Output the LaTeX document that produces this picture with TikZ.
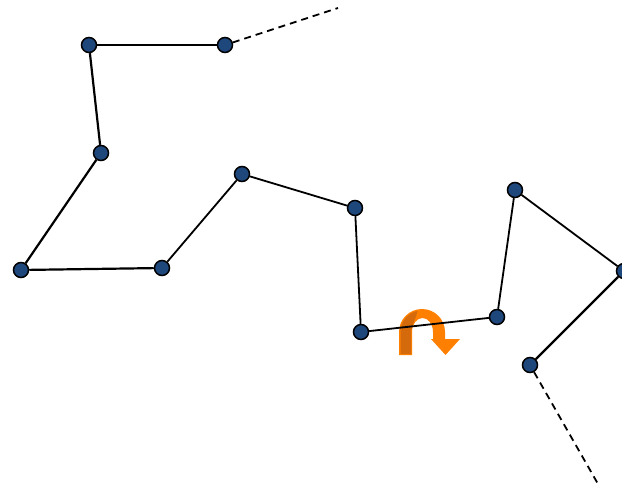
\documentclass[tikz,border=0pt]{standalone}
\begin{document}
\begin{tikzpicture}[x=1pt,y=-1pt,
  bead/.style={circle,draw=black,line width=1.5pt,fill=beadblue,minimum size=15pt,inner sep=0pt},
  thickedge/.style={line width=2.2pt},
  thinedge/.style={line width=1.8pt},
  dashedge/.style={line width=1.8pt,dash pattern=on 7pt off 5pt}]
\definecolor{beadblue}{RGB}{30,72,124}
\definecolor{arrorange}{RGB}{255,128,0}
\definecolor{arrdark}{RGB}{212,106,12}
\useasboundingbox (0,0) rectangle (622,487);
% rotation arrow
\fill[arrorange] (399,355) -- (399,332) arc[start angle=180,end angle=360,x radius=23,y radius=23]
  -- (445,339) -- (460,339) -- (445.5,355) -- (431,339) -- (433,339) -- (433,332)
  arc[start angle=0,end angle=-180,x radius=10.5,y radius=14] -- (412,355) -- cycle;
\fill[arrdark] (400.5,354) -- (400.5,332) arc[start angle=180,end angle=258,x radius=21.5,y radius=21.5]
  .. controls (417,316) and (412,324) .. (411,332) -- (411,354) -- cycle;
% nodes
\node[bead] (A) at (89,45) {};
\node[bead] (B) at (225,45) {};
\coordinate (Bend) at (338,8);
\node[bead] (C) at (101,153) {};
\node[bead] (D) at (21,270) {};
\node[bead] (E) at (162,268) {};
\node[bead] (F) at (242,174) {};
\node[bead] (G) at (355,208) {};
\node[bead] (H) at (361,332) {};
\node[bead] (I) at (497,317) {};
\node[bead] (J) at (515,190) {};
\node[bead] (K) at (624,271) {};
\node[bead] (L) at (530,365) {};
\coordinate (Lend) at (598,484);
% edges
\draw[dashedge] (B) -- (Bend);
\draw[thickedge] (A) -- (B);
\draw[thickedge] (A) -- (C);
\draw[thickedge] (C) -- (D);
\draw[thickedge] (D) -- (E);
\draw[thinedge] (E) -- (F);
\draw[thinedge] (F) -- (G);
\draw[thinedge] (G) -- (H);
\draw[thinedge] (H) -- (I);
\draw[thinedge] (I) -- (J);
\draw[thinedge] (J) -- (K);
\draw[thickedge] (K) -- (L);
\draw[dashedge] (L) -- (Lend);
\end{tikzpicture}
\end{document}
